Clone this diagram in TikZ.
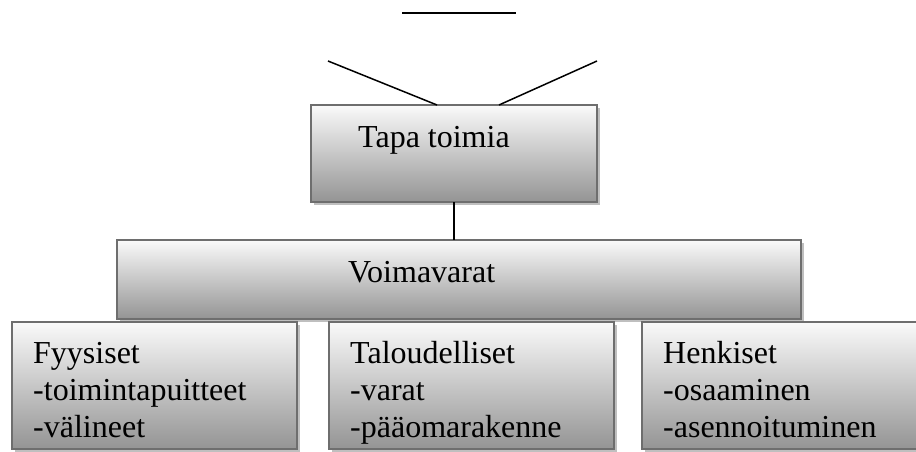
\documentclass[tikz,border=0pt]{standalone}
\usepackage{fontspec}
\setmainfont{Liberation Serif}
\usepackage{tikz}
\usetikzlibrary{positioning,shadows}

\tikzset{
    box/.style={rectangle, draw=black!57, line width=2pt, outer sep=0pt,
        inner sep=0pt, top color=black!2, bottom color=black!42,
        drop shadow={shadow xshift=3pt, shadow yshift=-3pt, fill=black!25, opacity=1}},
    lbl/.style={anchor=base west, inner sep=0pt, font=\fontsize{32}{37}\selectfont},
    lbls/.style={anchor=north west, inner sep=0pt, align=left, font=\fontsize{32}{37}\selectfont},
    conn/.style={draw, line width=1.5pt}
}

\begin{document}
\begin{tikzpicture}[x=1pt,y=-1pt]
        \useasboundingbox (0,0) rectangle (916,452);
        \clip (0,0) rectangle (916,452);
        % upper part of the chart
        \coordinate (topl) at (402,13);
        \coordinate (topr) at (516,13);
        \coordinate (diagl) at (328,61);
        \coordinate (diagr) at (597,61);
        \node[box, anchor=north west, minimum width=286pt, minimum height=97pt] (tapa) at (311,105) {};
        \node[lbl] at ([shift={(47,42)}]tapa.north west) {Tapa toimia};
        % resources
        \node[box, anchor=north west, minimum width=684pt, minimum height=79pt] (voima) at (117,240) {};
        \node[lbl] at ([shift={(231,42)}]voima.north west) {Voimavarat};
        \node[box, anchor=north west, minimum width=285pt, minimum height=127pt] (fyys) at (12,322) {};
        \node[box, minimum width=285pt, minimum height=127pt, right=32pt of fyys] (talous) {};
        \node[box, minimum width=285pt, minimum height=127pt, right=28pt of talous] (henk) {};
        \node[lbls] at ([shift={(21,15.1)}]fyys.north west) {\strut Fyysiset\\-toimintapuitteet\\-välineet};
        \node[lbls] at ([shift={(21,15.1)}]talous.north west) {\strut Taloudelliset\\-varat\\-pääomarakenne};
        \node[lbls] at ([shift={(21,15.1)}]henk.north west) {\strut Henkiset\\-osaaminen\\-asennoituminen};
        % lines
        \draw[conn] (topl) -- (topr);
        \draw[conn] (diagl) -- ([xshift=126pt]tapa.north west);
        \draw[conn] (diagr) -- ([xshift=188pt]tapa.north west);
        \draw[conn] (tapa.south) -- (tapa.south |- voima.north);
    \end{tikzpicture}
\end{document}
